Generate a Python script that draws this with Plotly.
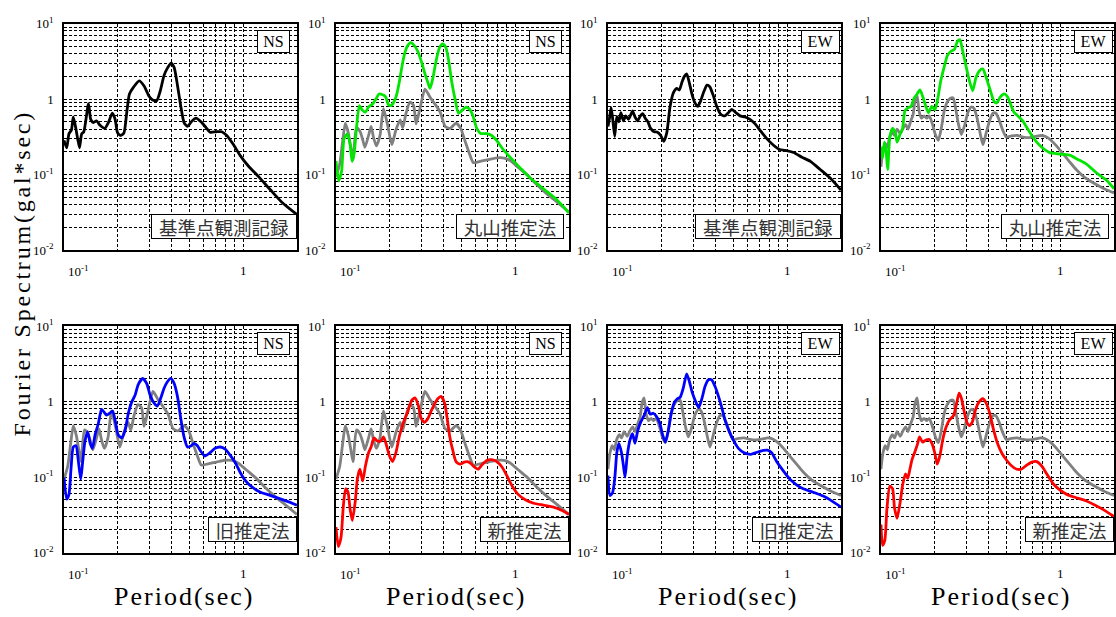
import math
import plotly.graph_objects as go

# ---------------- data (period [s], Fourier amplitude [gal*sec]) ----------------
period_black_ns = [0.100, 0.1035, 0.1066, 0.110, 0.1127, 0.1167, 0.122, 0.1255, 0.129, 0.137,
                   0.141, 0.146, 0.152, 0.159, 0.169, 0.177, 0.186, 0.193, 0.199, 0.207,
                   0.216, 0.224, 0.232, 0.244, 0.263, 0.280, 0.298, 0.311, 0.329, 0.344,
                   0.362, 0.380, 0.396, 0.412, 0.430, 0.449, 0.468, 0.489, 0.517, 0.546,
                   0.582, 0.621, 0.654, 0.707, 0.760, 0.811, 0.883, 0.962, 1.07, 1.22,
                   1.42, 1.64, 2.0]
amp_black_ns = [0.285, 0.226, 0.347, 0.39, 0.58, 0.40, 0.226, 0.347, 0.37, 0.87,
                0.54, 0.49, 0.516, 0.45, 0.41, 0.49, 0.65, 0.54, 0.36, 0.33,
                0.355, 0.66, 1.17, 1.43, 1.74, 1.49, 1.10, 0.98, 0.95, 1.26,
                2.06, 2.63, 3.0, 2.63, 1.53, 0.80, 0.49, 0.435, 0.51, 0.56,
                0.50, 0.42, 0.365, 0.37, 0.37, 0.33, 0.25, 0.18, 0.13, 0.094,
                0.063, 0.0435, 0.0296]

period_black_ew = [0.100, 0.1017, 0.104, 0.106, 0.109, 0.112, 0.115, 0.118, 0.122, 0.1255,
                   0.130, 0.134, 0.137, 0.142, 0.1465, 0.151, 0.156, 0.162, 0.167, 0.173,
                   0.181, 0.189, 0.197, 0.205, 0.213, 0.222, 0.232, 0.242, 0.250, 0.259,
                   0.267, 0.275, 0.285, 0.295, 0.306, 0.317, 0.328, 0.343, 0.357, 0.370,
                   0.386, 0.405, 0.426, 0.449, 0.470, 0.491, 0.518, 0.546, 0.582, 0.621,
                   0.663, 0.707, 0.770, 0.840, 0.910, 0.977, 1.088, 1.21, 1.35, 1.53,
                   1.74, 2.0]
amp_black_ew = [0.435, 0.54, 0.77, 0.57, 0.32, 0.59, 0.50, 0.66, 0.516, 0.60,
                0.54, 0.62, 0.70, 0.57, 0.516, 0.59, 0.64, 0.55, 0.50, 0.41,
                0.37, 0.365, 0.33, 0.276, 0.36, 0.79, 1.22, 1.385, 1.32, 1.69,
                2.0, 2.16, 1.62, 1.14, 0.89, 0.80, 0.93, 1.26, 1.53, 1.46,
                1.14, 0.80, 0.63, 0.60, 0.66, 0.73, 0.66, 0.60, 0.58, 0.54,
                0.47, 0.385, 0.30, 0.245, 0.215, 0.21, 0.196, 0.17, 0.15, 0.117,
                0.09, 0.0625]

period_gray_ns = [0.100, 0.105, 0.109, 0.1127, 0.117, 0.121, 0.1245, 0.130, 0.136, 0.141,
                  0.145, 0.152, 0.157, 0.162, 0.168, 0.176, 0.184, 0.194, 0.205, 0.216,
                  0.228, 0.236, 0.246, 0.259, 0.271, 0.280, 0.294, 0.314, 0.335, 0.357,
                  0.381, 0.407, 0.434, 0.468, 0.497, 0.525, 0.556, 0.585, 0.637, 0.710,
                  0.790, 0.869, 0.945, 1.04, 1.17, 1.32, 1.50, 1.71, 2.0]
amp_gray_ns = [0.094, 0.14, 0.28, 0.48, 0.36, 0.23, 0.16, 0.42, 0.375, 0.29,
               0.23, 0.33, 0.435, 0.31, 0.24, 0.33, 0.75, 0.46, 0.25, 0.39,
               0.53, 0.42, 0.65, 0.91, 0.83, 0.47, 0.74, 1.36, 1.06, 0.86,
               0.68, 0.435, 0.41, 0.48, 0.41, 0.28, 0.19, 0.144, 0.15, 0.158,
               0.167, 0.166, 0.152, 0.125, 0.099, 0.074, 0.056, 0.0435, 0.032]

period_gray_ew = [0.100, 0.1026, 0.1057, 0.1085, 0.1118, 0.1157, 0.119, 0.123, 0.128, 0.1327,
                  0.1374, 0.1415, 0.1465, 0.151, 0.155, 0.159, 0.163, 0.168, 0.174, 0.180,
                  0.186, 0.194, 0.202, 0.209, 0.217, 0.225, 0.234, 0.244, 0.253, 0.261,
                  0.271, 0.281, 0.293, 0.306, 0.320, 0.331, 0.344, 0.359, 0.371, 0.387,
                  0.405, 0.422, 0.438, 0.457, 0.476, 0.500, 0.535, 0.575, 0.621, 0.676,
                  0.730, 0.780, 0.830, 0.883, 0.955, 1.036, 1.13, 1.23, 1.37, 1.53,
                  1.74, 2.0]
amp_gray_ew = [0.127, 0.21, 0.26, 0.23, 0.315, 0.365, 0.33, 0.40, 0.347, 0.41,
               0.46, 0.40, 0.51, 0.62, 0.96, 1.12, 0.70, 0.56, 0.60, 0.56,
               0.60, 0.46, 0.33, 0.285, 0.41, 0.68, 0.91, 1.03, 1.04, 0.75,
               0.46, 0.34, 0.45, 0.67, 0.79, 0.75, 0.56, 0.34, 0.25, 0.36,
               0.53, 0.65, 0.65, 0.53, 0.40, 0.315, 0.325, 0.33, 0.315, 0.31,
               0.32, 0.33, 0.32, 0.29, 0.24, 0.19, 0.148, 0.117, 0.092, 0.078,
               0.066, 0.057]

period_green_ns = [0.100, 0.1035, 0.1075, 0.111, 0.116, 0.120, 0.123, 0.1266, 0.130, 0.135,
                   0.140, 0.146, 0.152, 0.160, 0.167, 0.174, 0.182, 0.189, 0.196, 0.203,
                   0.211, 0.218, 0.225, 0.233, 0.241, 0.250, 0.261, 0.273, 0.286, 0.301,
                   0.314, 0.325, 0.335, 0.347, 0.362, 0.378, 0.394, 0.410, 0.426, 0.443,
                   0.463, 0.483, 0.503, 0.530, 0.556, 0.580, 0.611, 0.643, 0.695, 0.740,
                   0.796, 0.861, 0.938, 1.067, 1.21, 1.44, 1.71, 2.0]
amp_green_ns = [0.152, 0.083, 0.112, 0.30, 0.347, 0.245, 0.15, 0.20, 0.40, 0.82,
                0.72, 0.67, 0.79, 0.86, 1.0, 1.17, 1.14, 1.08, 0.85, 0.82,
                0.93, 1.14, 1.62, 2.63, 3.9, 5.0, 5.6, 5.15, 4.3, 3.05,
                2.16, 1.69, 1.385, 1.87, 3.2, 4.77, 5.4, 4.87, 3.2, 1.69,
                0.98, 0.65, 0.70, 0.78, 0.74, 0.61, 0.41, 0.35, 0.35, 0.33,
                0.276, 0.212, 0.17, 0.123, 0.091, 0.065, 0.0465, 0.031]

period_green_ew = [0.100, 0.102, 0.1044, 0.1066, 0.109, 0.112, 0.116, 0.120, 0.123, 0.128,
                   0.132, 0.136, 0.142, 0.147, 0.153, 0.158, 0.165, 0.171, 0.178, 0.184,
                   0.192, 0.200, 0.207, 0.215, 0.225, 0.235, 0.246, 0.257, 0.267, 0.276,
                   0.286, 0.298, 0.311, 0.325, 0.339, 0.355, 0.370, 0.386, 0.407, 0.428,
                   0.443, 0.463, 0.487, 0.508, 0.530, 0.553, 0.585, 0.619, 0.652, 0.695,
                   0.740, 0.809, 0.874, 0.950, 1.03, 1.14, 1.25, 1.41, 1.60, 1.83,
                   2.0]
amp_green_ew = [0.234, 0.166, 0.27, 0.21, 0.117, 0.315, 0.41, 0.365, 0.27, 0.347,
                0.41, 0.70, 0.77, 0.80, 1.03, 1.14, 1.32, 1.08, 0.80, 0.66,
                0.80, 0.72, 0.98, 1.69, 2.63, 3.8, 4.3, 4.55, 5.8, 6.1,
                4.3, 2.77, 1.78, 1.29, 1.92, 2.38, 2.51, 1.96, 1.32, 0.93,
                0.89, 1.06, 1.17, 1.08, 0.85, 0.67, 0.59, 0.516, 0.42, 0.33,
                0.27, 0.22, 0.196, 0.19, 0.186, 0.18, 0.16, 0.137, 0.105, 0.083,
                0.065]

period_blue_ns = [0.100, 0.1035, 0.1066, 0.1094, 0.1127, 0.1167, 0.120, 0.124, 0.127, 0.131,
                  0.1355, 0.140, 0.144, 0.149, 0.1556, 0.162, 0.167, 0.173, 0.181, 0.187,
                  0.194, 0.201, 0.210, 0.219, 0.229, 0.239, 0.249, 0.260, 0.275, 0.290,
                  0.302, 0.318, 0.332, 0.347, 0.362, 0.378, 0.394, 0.412, 0.430, 0.449,
                  0.468, 0.489, 0.510, 0.532, 0.556, 0.580, 0.613, 0.654, 0.698, 0.745,
                  0.795, 0.850, 0.905, 0.962, 1.03, 1.12, 1.25, 1.39, 1.55, 1.75,
                  2.0]
amp_blue_ns = [0.099, 0.051, 0.059, 0.127, 0.25, 0.26, 0.17, 0.094, 0.155, 0.30,
               0.40, 0.28, 0.24, 0.36, 0.516, 0.79, 0.73, 0.66, 0.71, 0.75,
               0.53, 0.36, 0.33, 0.41, 0.71, 0.99, 1.2, 1.69, 2.02, 1.72,
               1.23, 0.96, 0.87, 1.11, 1.5, 1.83, 2.02, 1.74, 1.17, 0.59,
               0.34, 0.25, 0.257, 0.28, 0.26, 0.22, 0.19, 0.21, 0.24, 0.25,
               0.234, 0.192, 0.155, 0.116, 0.090, 0.074, 0.063, 0.058, 0.053, 0.048,
               0.0425]

period_blue_ew = [0.100, 0.1026, 0.106, 0.109, 0.112, 0.115, 0.119, 0.122, 0.1245, 0.128,
                  0.1327, 0.137, 0.1415, 0.1465, 0.152, 0.159, 0.166, 0.172, 0.179, 0.185,
                  0.194, 0.202, 0.209, 0.217, 0.225, 0.234, 0.244, 0.253, 0.263, 0.275,
                  0.285, 0.295, 0.307, 0.321, 0.335, 0.348, 0.364, 0.379, 0.396, 0.414,
                  0.432, 0.451, 0.476, 0.500, 0.535, 0.575, 0.627, 0.680, 0.737, 0.777,
                  0.820, 0.876, 0.955, 1.036, 1.13, 1.23, 1.40, 1.59, 1.81, 2.0]
amp_blue_ew = [0.105, 0.057, 0.062, 0.094, 0.21, 0.28, 0.21, 0.14, 0.10, 0.19,
               0.31, 0.375, 0.28, 0.41, 0.53, 0.65, 0.83, 0.68, 0.70, 0.65,
               0.53, 0.36, 0.29, 0.41, 0.68, 0.96, 1.09, 1.14, 1.5, 2.33,
               1.83, 1.33, 1.03, 0.83, 1.11, 1.58, 1.94, 1.94, 1.58, 1.17,
               0.83, 0.56, 0.40, 0.31, 0.24, 0.21, 0.20, 0.213, 0.225, 0.227,
               0.21, 0.16, 0.12, 0.094, 0.079, 0.070, 0.063, 0.056, 0.047, 0.040]

period_red_ns = [0.100, 0.103, 0.1066, 0.110, 0.1132, 0.1167, 0.120, 0.1234, 0.128, 0.1316,
                 0.136, 0.141, 0.146, 0.152, 0.157, 0.163, 0.170, 0.178, 0.184, 0.190,
                 0.199, 0.207, 0.216, 0.226, 0.238, 0.252, 0.264, 0.276, 0.288, 0.298,
                 0.311, 0.325, 0.340, 0.355, 0.370, 0.386, 0.404, 0.417, 0.432, 0.449,
                 0.468, 0.493, 0.520, 0.541, 0.565, 0.595, 0.621, 0.654, 0.695, 0.740,
                 0.790, 0.843, 0.900, 0.970, 1.04, 1.14, 1.27, 1.44, 1.64, 1.83,
                 2.0]
amp_red_ns = [0.0218, 0.012, 0.0157, 0.0425, 0.070, 0.063, 0.037, 0.0266, 0.047, 0.094,
              0.127, 0.089, 0.14, 0.21, 0.25, 0.33, 0.30, 0.30, 0.34, 0.28,
              0.19, 0.16, 0.21, 0.35, 0.53, 0.74, 1.03, 1.12, 0.89, 0.61,
              0.53, 0.59, 0.75, 0.93, 1.09, 1.17, 0.96, 0.61, 0.34, 0.225,
              0.16, 0.148, 0.158, 0.16, 0.152, 0.135, 0.127, 0.146, 0.166, 0.17,
              0.16, 0.137, 0.104, 0.074, 0.059, 0.050, 0.045, 0.0425, 0.040, 0.036,
              0.032]

period_red_ew = [0.100, 0.102, 0.105, 0.108, 0.112, 0.116, 0.119, 0.123, 0.128, 0.132,
                 0.137, 0.141, 0.145, 0.149, 0.154, 0.160, 0.164, 0.171, 0.178, 0.186,
                 0.193, 0.200, 0.206, 0.214, 0.221, 0.231, 0.241, 0.254, 0.264, 0.273,
                 0.281, 0.291, 0.301, 0.311, 0.323, 0.335, 0.350, 0.370, 0.386, 0.404,
                 0.424, 0.447, 0.474, 0.503, 0.537, 0.573, 0.611, 0.651, 0.695, 0.740,
                 0.790, 0.843, 0.918, 1.0, 1.09, 1.21, 1.38, 1.57, 1.78, 2.0]
amp_red_ew = [0.0235, 0.0125, 0.0145, 0.039, 0.076, 0.070, 0.039, 0.0285, 0.047, 0.078,
              0.11, 0.096, 0.127, 0.17, 0.21, 0.275, 0.34, 0.29, 0.31, 0.315,
              0.275, 0.205, 0.148, 0.20, 0.31, 0.46, 0.57, 0.65, 0.93, 1.29,
              1.11, 0.75, 0.54, 0.48, 0.53, 0.74, 0.96, 1.09, 0.96, 0.71,
              0.435, 0.28, 0.205, 0.167, 0.14, 0.127, 0.128, 0.144, 0.158, 0.16,
              0.14, 0.11, 0.081, 0.067, 0.059, 0.054, 0.049, 0.0425, 0.036, 0.030]

# axis ticks / grid
x_major = [0.1, 1.0]
x_minor = [0.2, 0.3, 0.4, 0.5, 0.6, 0.7, 0.8, 0.9]
x_labels = [(0.1, "10<sup>-1</sup>"), (1.0, "1")]
y_major = [0.01, 0.1, 1.0, 10.0]
y_major_text = ["10<sup>-2</sup>", "10<sup>-1</sup>", "1", "10<sup>1</sup>"]
y_minor = [m * 10.0 ** e for e in (-2, -1, 0) for m in range(2, 10)]

SERIES = {
    "black_ns": (period_black_ns, amp_black_ns, "#000000"),
    "black_ew": (period_black_ew, amp_black_ew, "#000000"),
    "gray_ns": (period_gray_ns, amp_gray_ns, "#808080"),
    "gray_ew": (period_gray_ew, amp_gray_ew, "#808080"),
    "green_ns": (period_green_ns, amp_green_ns, "#00e600"),
    "green_ew": (period_green_ew, amp_green_ew, "#00e600"),
    "blue_ns": (period_blue_ns, amp_blue_ns, "#0000ff"),
    "blue_ew": (period_blue_ew, amp_blue_ew, "#0000ff"),
    "red_ns": (period_red_ns, amp_red_ns, "#ff0000"),
    "red_ew": (period_red_ew, amp_red_ew, "#ff0000"),
}

# (row, col, series, component, method)
PANELS = [
    (0, 0, ["black_ns"], "NS", "基準点観測記録"),
    (0, 1, ["gray_ns", "green_ns"], "NS", "丸山推定法"),
    (0, 2, ["black_ew"], "EW", "基準点観測記録"),
    (0, 3, ["gray_ew", "green_ew"], "EW", "丸山推定法"),
    (1, 0, ["gray_ns", "blue_ns"], "NS", "旧推定法"),
    (1, 1, ["gray_ns", "red_ns"], "NS", "新推定法"),
    (1, 2, ["gray_ew", "blue_ew"], "EW", "旧推定法"),
    (1, 3, ["gray_ew", "red_ew"], "EW", "新推定法"),
]
METHOD_BOX_W = {7: 144, 5: 106, 4: 87}

W, H = 1116, 617
LEFTS = [64, 336, 608, 881]
TOPS = [15, 326]
SIZE = 233
SERIF = "Liberation Serif, Times New Roman, serif"
CJK = "Noto Sans CJK JP"
GRID = dict(showgrid=True, gridcolor="#000000", gridwidth=1, griddash="3px,2px")

fig = go.Figure()
layout = dict(width=W, height=H, margin=dict(l=0, r=0, t=0, b=0),
              paper_bgcolor="white", plot_bgcolor="white", showlegend=False)
annotations = []

for k, (row, col, series, comp, method) in enumerate(PANELS, start=1):
    sfx = "" if k == 1 else str(k)
    xref, yref = "x" + sfx, "y" + sfx
    l, t = LEFTS[col], TOPS[row]
    layout["xaxis" + sfx] = dict(
        type="log", range=[-1, math.log10(2.0)], domain=[l / W, (l + SIZE) / W],
        anchor=yref, tickmode="array", tickvals=x_major, showticklabels=False, ticks="",
        minor=dict(tickmode="array", tickvals=x_minor, ticks="", **GRID),
        showline=True, mirror=True, linecolor="#000000", linewidth=1.5,
        zeroline=False, fixedrange=True, **GRID)
    layout["yaxis" + sfx] = dict(
        type="log", range=[-2, 1], domain=[1 - (t + SIZE) / H, 1 - t / H],
        anchor=xref, tickmode="array", tickvals=y_major, ticktext=y_major_text, ticks="",
        tickfont=dict(family=SERIF, size=13, color="#000000"), ticklabelstandoff=6,
        minor=dict(tickmode="array", tickvals=y_minor, ticks="", **GRID),
        showline=True, mirror=True, linecolor="#000000", linewidth=1.5,
        zeroline=False, fixedrange=True, **GRID)
    for name in series:
        px_, py_, color = SERIES[name]
        fig.add_trace(go.Scatter(x=px_, y=py_, mode="lines", xaxis=xref, yaxis=yref,
                                 line=dict(color=color, width=2.8, shape="spline", smoothing=0.6),
                                 hoverinfo="skip"))
    # x tick labels
    for val, txt in x_labels:
        annotations.append(dict(
            x=math.log10(val), xref=xref, y=0, yref=yref + " domain",
            text=txt, showarrow=False, yanchor="top", yshift=-11,
            xanchor="left" if val < 1 else "center", xshift=2 if val < 1 else 0,
            font=dict(family=SERIF, size=13, color="#000000")))
    # component box
    annotations.append(dict(
        x=193 / SIZE, xref=xref + " domain", y=1, yref=yref + " domain",
        xanchor="left", yanchor="top", yshift=-6, showarrow=False, text=comp,
        font=dict(family=SERIF, size=16, color="#000000"),
        bgcolor="white", bordercolor="#000000", borderwidth=1, borderpad=0,
        width=31 if comp == "NS" else 37, height=21))
    # method box
    annotations.append(dict(
        x=1, xref=xref + " domain", y=0, yref=yref + " domain",
        xanchor="right", yanchor="bottom", yshift=11,
        xshift=-5 if len(method) == 5 else 0, showarrow=False, text=method,
        font=dict(family=CJK, size=18.5, color="#333333"),
        bgcolor="white", bordercolor="#000000", borderwidth=1, borderpad=0,
        width=METHOD_BOX_W[len(method)], height=23))
    if row == 1:
        annotations.append(dict(
            x=0.5, xref=xref + " domain", y=(H - 604) / H, yref="paper",
            xanchor="center", yanchor="middle", xshift=3, showarrow=False,
            text="Period(sec)", font=dict(family=SERIF, size=26, color="#000000")))

annotations.append(dict(
    x=22 / W, xref="paper", y=(H - 272) / H, yref="paper", xanchor="center",
    yanchor="middle", textangle=-90, showarrow=False,
    text="Fourier Spectrum(gal*sec)", font=dict(family=SERIF, size=24, color="#000000")))

layout["annotations"] = annotations
fig.update_layout(**layout)

post = """
(function(){
  function spacing(){
    document.querySelectorAll('.annotation-text').forEach(function(t){
      var s = t.textContent;
      if (s === 'Period(sec)') t.style.letterSpacing = '2px';
      else if (s.indexOf('Fourier') === 0) t.style.letterSpacing = '2.8px';
    });
  }
  spacing();
  setTimeout(spacing, 50);
})();
"""
fig.write_html("out.html", post_script=post)
